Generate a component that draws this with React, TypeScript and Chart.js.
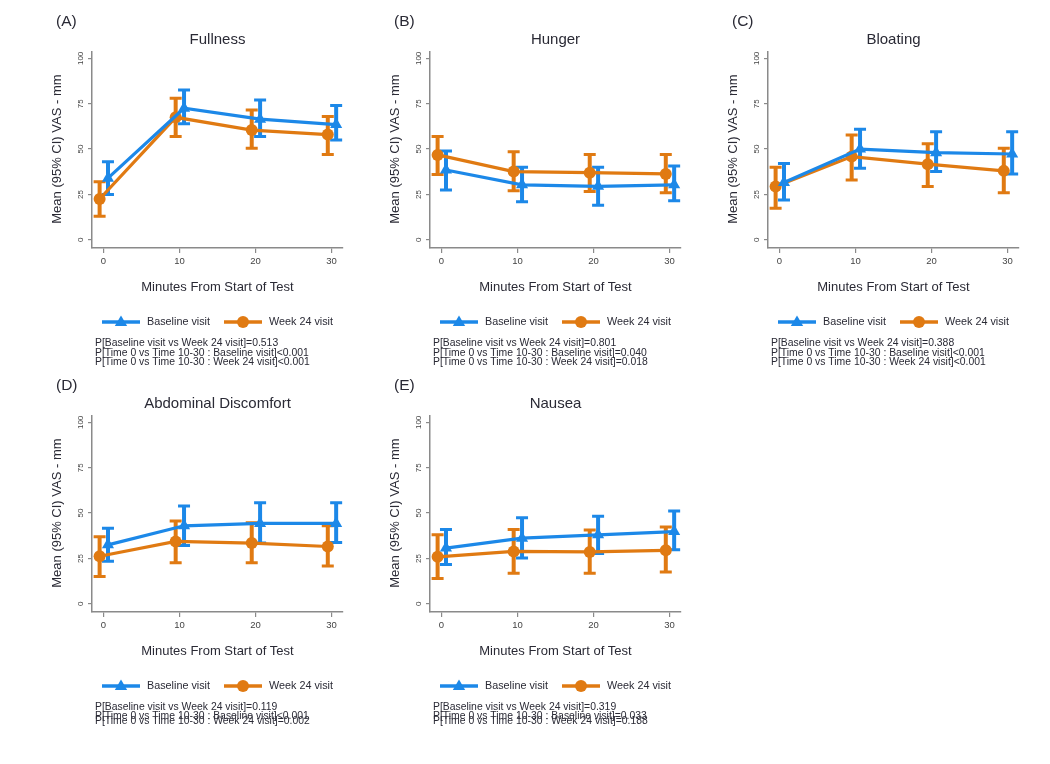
import React, { useEffect, useRef } from "react";
import { Chart, registerables } from "chart.js";
Chart.register(...registerables);

// ---------- data ----------
const minutes = [0, 10, 20, 30];
const xTicks = [0, 10, 20, 30];
const yTicks = [0, 25, 50, 75, 100];
const seriesNames = ["Baseline visit", "Week 24 visit"];
const xTitle = "Minutes From Start of Test";
const yTitle = "Mean (95% CI) VAS - mm";

// (A) Fullness
const fullnessBaseline = [34, 72.5, 66.5, 63.5];
const fullnessBaselineLo = [25, 64, 57, 55];
const fullnessBaselineHi = [43, 82.5, 77, 74];
const fullnessWeek24 = [22.5, 67.5, 60.5, 58];
const fullnessWeek24Lo = [13, 57, 50.5, 47];
const fullnessWeek24Hi = [32, 78, 71.5, 68];

// (B) Hunger
const hungerBaseline = [38.5, 30.3, 29.5, 30.3];
const hungerBaselineLo = [27.5, 21, 19, 21.5];
const hungerBaselineHi = [49, 40, 40, 40.7];
const hungerWeek24 = [46.8, 37.6, 37, 36.3];
const hungerWeek24Lo = [36, 27, 26.6, 26];
const hungerWeek24Hi = [57, 48.6, 47, 47];

// (C) Bloating
const bloatingBaseline = [31.6, 50, 48, 47.3];
const bloatingBaselineLo = [22, 39.4, 37.6, 36.3];
const bloatingBaselineHi = [42, 61, 59.6, 59.6];
const bloatingWeek24 = [29.4, 45.9, 41.7, 38];
const bloatingWeek24Lo = [17.4, 33, 29.4, 26];
const bloatingWeek24Hi = [40, 57.8, 53, 50.5];

// (D) Abdominal Discomfort
const discomfortBaseline = [32.5, 43, 44.3, 44.3];
const discomfortBaselineLo = [23.5, 32.2, 33.5, 33.8];
const discomfortBaselineHi = [41.6, 53.9, 55.7, 55.7];
const discomfortWeek24 = [26.2, 34.4, 33.5, 31.6];
const discomfortWeek24Lo = [15, 22.6, 22.6, 20.8];
const discomfortWeek24Hi = [37, 45.7, 44.7, 43];

// (E) Nausea
const nauseaBaseline = [30.7, 36.2, 38, 39.8];
const nauseaBaselineLo = [21.7, 25.3, 27.7, 29.8];
const nauseaBaselineHi = [41, 47.4, 48.3, 51.2];
const nauseaWeek24 = [25.9, 28.9, 28.6, 29.5];
const nauseaWeek24Lo = [14, 16.8, 16.8, 17.6];
const nauseaWeek24Hi = [38, 40.9, 40.7, 42.3];

// p-value notes
const fullnessNotes = [
  "P[Baseline visit vs Week 24 visit]=0.513",
  "P[Time 0 vs Time 10-30 : Baseline visit]<0.001",
  "P[Time 0 vs Time 10-30 : Week 24 visit]<0.001",
];
const hungerNotes = [
  "P[Baseline visit vs Week 24 visit]=0.801",
  "P[Time 0 vs Time 10-30 : Baseline visit]=0.040",
  "P[Time 0 vs Time 10-30 : Week 24 visit]=0.018",
];
const bloatingNotes = [
  "P[Baseline visit vs Week 24 visit]=0.388",
  "P[Time 0 vs Time 10-30 : Baseline visit]<0.001",
  "P[Time 0 vs Time 10-30 : Week 24 visit]<0.001",
];
const discomfortNotes = [
  "P[Baseline visit vs Week 24 visit]=0.119",
  "P[Time 0 vs Time 10-30 : Baseline visit]<0.001",
  "P[Time 0 vs Time 10-30 : Week 24 visit]=0.002",
];
const nauseaNotes = [
  "P[Baseline visit vs Week 24 visit]=0.319",
  "P[Time 0 vs Time 10-30 : Baseline visit]=0.033",
  "P[Time 0 vs Time 10-30 : Week 24 visit]=0.188",
];

// ---------- style ----------
const BLUE = "#1c88e8";
const ORANGE = "#e07a12";
const AXIS = "#8a8a8a";
const TEXT = "#2a2a35";
const FONT = "'Liberation Sans', Arial, sans-serif";
const BASE_SHIFT = 0.6;
const WEEK_SHIFT = -0.5;
const CW = 320;
const CH = 375;

type PanelDef = {
  tag: string;
  title: string;
  base: number[];
  baseLo: number[];
  baseHi: number[];
  wk: number[];
  wkLo: number[];
  wkHi: number[];
  notes: string[];
  left: number;
  top: number;
  tight: boolean;
};

const panels: PanelDef[] = [
  { tag: "(A)", title: "Fullness", base: fullnessBaseline, baseLo: fullnessBaselineLo, baseHi: fullnessBaselineHi, wk: fullnessWeek24, wkLo: fullnessWeek24Lo, wkHi: fullnessWeek24Hi, notes: fullnessNotes, left: 40, top: 0, tight: false },
  { tag: "(B)", title: "Hunger", base: hungerBaseline, baseLo: hungerBaselineLo, baseHi: hungerBaselineHi, wk: hungerWeek24, wkLo: hungerWeek24Lo, wkHi: hungerWeek24Hi, notes: hungerNotes, left: 378, top: 0, tight: false },
  { tag: "(C)", title: "Bloating", base: bloatingBaseline, baseLo: bloatingBaselineLo, baseHi: bloatingBaselineHi, wk: bloatingWeek24, wkLo: bloatingWeek24Lo, wkHi: bloatingWeek24Hi, notes: bloatingNotes, left: 716, top: 0, tight: false },
  { tag: "(D)", title: "Abdominal Discomfort", base: discomfortBaseline, baseLo: discomfortBaselineLo, baseHi: discomfortBaselineHi, wk: discomfortWeek24, wkLo: discomfortWeek24Lo, wkHi: discomfortWeek24Hi, notes: discomfortNotes, left: 40, top: 364, tight: true },
  { tag: "(E)", title: "Nausea", base: nauseaBaseline, baseLo: nauseaBaselineLo, baseHi: nauseaBaselineHi, wk: nauseaWeek24, wkLo: nauseaWeek24Lo, wkHi: nauseaWeek24Hi, notes: nauseaNotes, left: 378, top: 364, tight: true },
];

function drawMarker(ctx: CanvasRenderingContext2D, style: string, x: number, y: number, r: number, color: string) {
  ctx.fillStyle = color;
  ctx.beginPath();
  if (style === "triangle") {
    ctx.moveTo(x, y - r);
    ctx.lineTo(x + r * 0.95, y + r * 0.6);
    ctx.lineTo(x - r * 0.95, y + r * 0.6);
    ctx.closePath();
  } else {
    ctx.arc(x, y, r, 0, Math.PI * 2);
  }
  ctx.fill();
}

function makePlugin(p: PanelDef) {
  return {
    id: "panelDecor",
    beforeDatasetsDraw(chart: any) {
      const ctx = chart.ctx as CanvasRenderingContext2D;
      const ys = chart.scales.y;
      for (let di = chart.data.datasets.length - 1; di >= 0; di--) {
        const ds = chart.data.datasets[di] as any;
        const meta = chart.getDatasetMeta(di);
        ctx.save();
        ctx.strokeStyle = ds.borderColor;
        meta.data.forEach((pt: any, i: number) => {
          const x = pt.x;
          const y1 = ys.getPixelForValue(ds.lo[i]);
          const y2 = ys.getPixelForValue(ds.hi[i]);
          ctx.lineWidth = 4;
          ctx.beginPath();
          ctx.moveTo(x, y1);
          ctx.lineTo(x, y2);
          ctx.stroke();
          ctx.lineWidth = 3;
          ctx.beginPath();
          ctx.moveTo(x - 6, y1);
          ctx.lineTo(x + 6, y1);
          ctx.moveTo(x - 6, y2);
          ctx.lineTo(x + 6, y2);
          ctx.stroke();
        });
        ctx.restore();
      }
    },
    afterDraw(chart: any) {
      const ctx = chart.ctx as CanvasRenderingContext2D;
      const area = chart.chartArea;
      const ys = chart.scales.y;
      const cx = (area.left + area.right) / 2;
      ctx.save();
      ctx.fillStyle = TEXT;
      ctx.textBaseline = "middle";
      // panel tag
      ctx.font = `15.5px ${FONT}`;
      ctx.textAlign = "left";
      ctx.fillText(p.tag, area.left - 36, 22);
      // title
      ctx.textAlign = "center";
      ctx.font = `15px ${FONT}`;
      ctx.fillText(p.title, cx, 40);
      // x title
      ctx.font = `13px ${FONT}`;
      ctx.fillText(xTitle, cx, 287);
      // y title
      const ymid = (ys.getPixelForValue(0) + ys.getPixelForValue(100)) / 2;
      ctx.save();
      ctx.translate(17, ymid);
      ctx.rotate(-Math.PI / 2);
      ctx.fillText(yTitle, 0, 0);
      ctx.restore();
      // y tick labels, rotated
      ctx.font = `8px ${FONT}`;
      ctx.fillStyle = "#444";
      ys.ticks.forEach((t: any) => {
        const y = ys.getPixelForValue(t.value);
        ctx.save();
        ctx.translate(area.left - 11, y);
        ctx.rotate(-Math.PI / 2);
        ctx.fillText(String(t.value), 0, 0);
        ctx.restore();
      });
      // legend
      const ly = 322;
      const items = [
        { x: area.left + 10, color: BLUE, style: "triangle", r: 6.5, name: seriesNames[0] },
        { x: area.left + 132, color: ORANGE, style: "circle", r: 6, name: seriesNames[1] },
      ];
      items.forEach((it) => {
        ctx.strokeStyle = it.color;
        ctx.lineWidth = 3.5;
        ctx.beginPath();
        ctx.moveTo(it.x, ly);
        ctx.lineTo(it.x + 38, ly);
        ctx.stroke();
        drawMarker(ctx, it.style, it.x + 19, ly, it.r, it.color);
        ctx.fillStyle = TEXT;
        ctx.font = `10.8px ${FONT}`;
        ctx.textAlign = "left";
        ctx.fillText(it.name, it.x + 45, ly);
      });
      // notes
      const offs = p.tight ? [343, 352, 357] : [343, 353, 362];
      ctx.font = `10.4px ${FONT}`;
      ctx.textAlign = "left";
      ctx.fillStyle = TEXT;
      p.notes.forEach((n, i) => ctx.fillText(n, area.left + 3, offs[i]));
      ctx.restore();
    },
  };
}

function Panel({ p }: { p: PanelDef }) {
  const ref = useRef<HTMLCanvasElement | null>(null);
  useEffect(() => {
    if (!ref.current) return;
    const chart = new Chart(ref.current, {
      type: "line",
      data: {
        datasets: [
          {
            label: seriesNames[0],
            data: minutes.map((m, i) => ({ x: m + BASE_SHIFT, y: p.base[i] })),
            lo: p.baseLo,
            hi: p.baseHi,
            borderColor: BLUE,
            backgroundColor: BLUE,
            borderWidth: 3.2,
            pointStyle: "triangle",
            pointRadius: 7,
            pointBorderWidth: 0,
          } as any,
          {
            label: seriesNames[1],
            data: minutes.map((m, i) => ({ x: m + WEEK_SHIFT, y: p.wk[i] })),
            lo: p.wkLo,
            hi: p.wkHi,
            borderColor: ORANGE,
            backgroundColor: ORANGE,
            borderWidth: 3.2,
            pointStyle: "circle",
            pointRadius: 6,
            pointBorderWidth: 0,
          } as any,
        ],
      },
      options: {
        animation: false,
        responsive: false,
        maintainAspectRatio: false,
        layout: { padding: { top: 52, right: 17, bottom: 87, left: 0 } },
        plugins: {
          legend: { display: false },
          tooltip: { enabled: false },
          title: { display: false },
        },
        scales: {
          x: {
            type: "linear",
            min: -1.5,
            max: 31.5,
            afterBuildTicks: (s: any) => {
              s.ticks = xTicks.map((v) => ({ value: v }));
            },
            afterFit: (s: any) => {
              s.height = 40;
            },
            grid: { drawOnChartArea: false, drawTicks: true, tickLength: 5, color: AXIS, lineWidth: 1.2 },
            border: { display: true, color: AXIS, width: 1.5 },
            ticks: { font: { size: 9.5, family: FONT }, color: "#444", padding: 3, maxRotation: 0, autoSkip: false },
          },
          y: {
            type: "linear",
            min: -4.5,
            max: 103.5,
            afterBuildTicks: (s: any) => {
              s.ticks = yTicks.map((v) => ({ value: v }));
            },
            afterFit: (s: any) => {
              s.width = 52;
            },
            grid: { drawOnChartArea: false, drawTicks: true, tickLength: 4, color: AXIS, lineWidth: 1.2 },
            border: { display: true, color: AXIS, width: 1.5 },
            ticks: { display: false },
          },
        },
      } as any,
      plugins: [makePlugin(p) as any],
    });
    return () => chart.destroy();
  }, [p]);
  return (
    <canvas
      ref={ref}
      width={CW}
      height={CH}
      style={{ position: "absolute", left: p.left, top: p.top, width: CW, height: CH, display: "block" }}
    />
  );
}

export default function App() {
  return (
    <div style={{ position: "absolute", left: 0, top: 0, width: 1050, height: 764, background: "#fff", overflow: "hidden" }}>
      {panels.map((p) => (
        <Panel key={p.tag} p={p} />
      ))}
    </div>
  );
}
